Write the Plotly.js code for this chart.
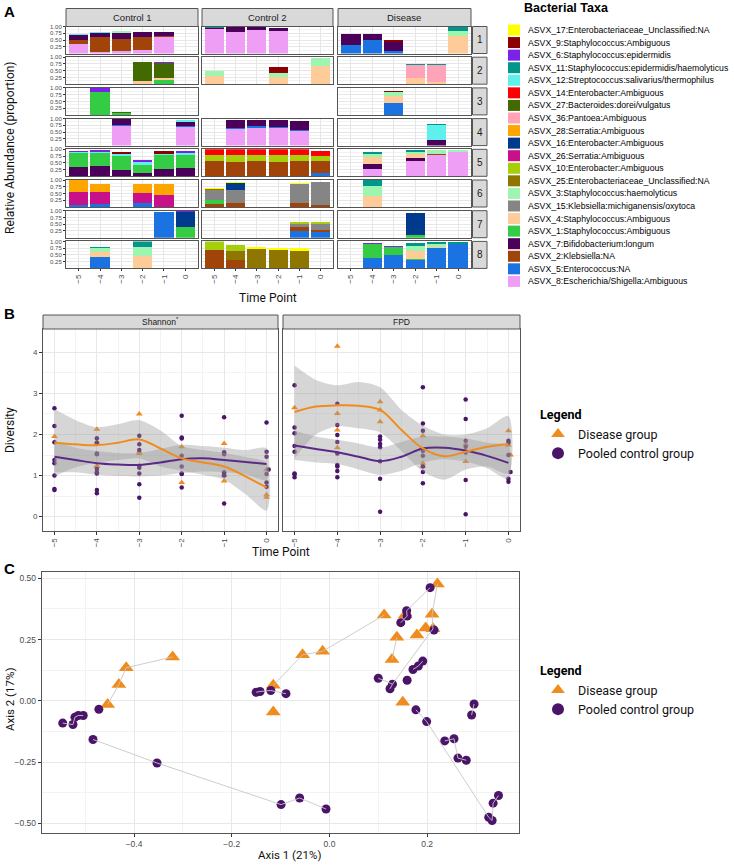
<!DOCTYPE html>
<html><head><meta charset="utf-8">
<script src="https://cdn.plot.ly/plotly-3.0.1.min.js"></script>
<style>html,body{margin:0;padding:0;background:#fff}#chart{width:734px;height:865px}</style>
</head><body><div id="chart"></div>
<script>
// ---------------- DATA ----------------
const timePoints = [-5,-4,-3,-2,-1,0];
const groups = ["Control 1","Control 2","Disease"];
const subjects = ["1","2","3","4","5","6","7","8"];
const taxonIds = ["17","9","6","11","12","14","27","36","28","16","26","10","25","3","15","4","1","7","2","5","8"];
const taxonNames = [
 "ASVX_17:Enterobacteriaceae_Unclassified:NA","ASVX_9:Staphylococcus:Ambiguous","ASVX_6:Staphylococcus:epidermidis",
 "ASVX_11:Staphylococcus:epidermidis/haemolyticus","ASVX_12:Streptococcus:salivarius/thermophilus","ASVX_14:Enterobacter:Ambiguous",
 "ASVX_27:Bacteroides:dorei/vulgatus","ASVX_36:Pantoea:Ambiguous","ASVX_28:Serratia:Ambiguous","ASVX_16:Enterobacter:Ambiguous",
 "ASVX_26:Serratia:Ambiguous","ASVX_10:Enterobacter:Ambiguous","ASVX_25:Enterobacteriaceae_Unclassified:NA",
 "ASVX_3:Staphylococcus:haemolyticus","ASVX_15:Klebsiella:michiganensis/oxytoca","ASVX_4:Staphylococcus:Ambiguous",
 "ASVX_1:Staphylococcus:Ambiguous","ASVX_7:Bifidobacterium:longum","ASVX_2:Klebsiella:NA","ASVX_5:Enterococcus:NA",
 "ASVX_8:Escherichia/Shigella:Ambiguous"];
const taxonColors = ["#FFFF00","#8B0000","#7A22E8","#00968A","#5FF0EE","#FF0000","#426A00","#FFA3B8","#FFA500","#003A8C",
 "#C8108A","#A6CE0A","#8E7600","#9EF5B0","#858585","#FFCB98","#33CC44","#4B0059","#A0440A","#1A73E0","#EE9EF5"];

// [time point, taxon id, relative abundance]
const c1_1 = [[-5,"8",0.37],[-5,"2",0.13],[-5,"7",0.19],[-5,"12",0.05],[-4,"8",0.07],[-4,"2",0.53],[-4,"7",0.17],[-4,"12",0.02],
 [-3,"8",0.09],[-3,"2",0.43],[-3,"7",0.23],[-3,"3",0.07],[-2,"8",0.12],[-2,"2",0.48],[-2,"7",0.19],[-2,"12",0.02],[-1,"8",0.6],[-1,"2",0.05],[-1,"7",0.15]];
const c2_1 = [[-5,"8",0.89],[-5,"7",0.05],[-5,"11",0.03],[-4,"8",0.79],[-4,"7",0.2],[-3,"8",0.87],[-3,"7",0.12],[-2,"8",0.84],[-2,"7",0.11]];
const d_1 = [[-5,"5",0.31],[-5,"7",0.4],[-4,"5",0.5],[-4,"7",0.22],[-3,"5",0.1],[-3,"7",0.34],[-3,"9",0.06],[0,"4",0.66],[0,"3",0.17],[0,"11",0.16]];
const c1_2 = [[-2,"4",0.11],[-2,"27",0.73],[-1,"1",0.15],[-1,"4",0.07],[-1,"27",0.57],[-1,"6",0.04]];
const c2_2 = [[-5,"4",0.3],[-5,"3",0.19],[-2,"4",0.27],[-2,"3",0.15],[-2,"9",0.23],[0,"4",0.69],[0,"3",0.27]];
const d_2 = [[-2,"4",0.24],[-2,"36",0.47],[-2,"11",0.04],[-1,"4",0.09],[-1,"36",0.62],[-1,"11",0.03]];
const c1_3 = [[-4,"1",0.83],[-4,"6",0.17],[-3,"1",0.06],[-3,"27",0.04]];
const c2_3 = [];
const d_3 = [[-3,"5",0.43],[-3,"4",0.28],[-3,"3",0.12],[-3,"9",0.06]];
const c1_4 = [[-3,"8",0.72],[-3,"5",0.03],[-3,"7",0.25],[0,"8",0.68],[0,"5",0.04],[0,"7",0.17],[0,"12",0.07]];
const c2_4 = [[-4,"8",0.63],[-4,"5",0.03],[-4,"7",0.3],[-3,"8",0.67],[-3,"5",0.05],[-3,"7",0.24],[-2,"8",0.64],[-2,"5",0.05],[-2,"7",0.27],
 [-1,"8",0.54],[-1,"5",0.04],[-1,"7",0.33]];
const d_4 = [[-1,"7",0.19],[-1,"12",0.58],[-1,"11",0.03]];
const c1_5 = [[-5,"7",0.35],[-5,"1",0.5],[-5,"12",0.05],[-5,"6",0.05],[-4,"7",0.37],[-4,"1",0.5],[-4,"12",0.03],[-4,"6",0.08],
 [-3,"7",0.25],[-3,"1",0.5],[-3,"12",0.07],[-3,"9",0.07],[-2,"7",0.13],[-2,"1",0.28],[-2,"12",0.13],[-2,"6",0.06],
 [-1,"7",0.28],[-1,"1",0.5],[-1,"12",0.04],[-1,"9",0.13],[0,"7",0.3],[0,"1",0.5],[0,"12",0.05],[0,"6",0.09]];
const c2_5 = [[-5,"2",0.57],[-5,"10",0.22],[-5,"14",0.21],[-4,"2",0.54],[-4,"10",0.26],[-4,"14",0.2],[-3,"2",0.55],[-3,"10",0.24],[-3,"14",0.21],
 [-2,"2",0.54],[-2,"10",0.24],[-2,"14",0.22],[-1,"2",0.57],[-1,"10",0.23],[-1,"14",0.2],[0,"5",0.12],[0,"2",0.45],[0,"10",0.19],[0,"14",0.18]];
const d_5 = [[-4,"8",0.26],[-4,"7",0.21],[-4,"4",0.23],[-4,"3",0.14],[-4,"11",0.05],[-2,"8",0.55],[-2,"7",0.11],[-2,"4",0.16],[-2,"3",0.09],[-2,"11",0.07],
 [-1,"8",0.78],[-1,"2",0.03],[-1,"3",0.15],[0,"8",0.9],[0,"3",0.07]];
const c1_6 = [[-5,"5",0.08],[-5,"26",0.48],[-5,"28",0.44],[-4,"5",0.12],[-4,"26",0.44],[-4,"28",0.29],[-2,"5",0.15],[-2,"26",0.38],[-2,"28",0.32],
 [-1,"26",0.46],[-1,"28",0.39]];
const c2_6 = [[-5,"2",0.12],[-5,"1",0.13],[-5,"15",0.38],[-5,"25",0.05],[-5,"17",0.03],[-4,"2",0.15],[-4,"15",0.47],[-4,"16",0.26],[-4,"17",0.03],
 [-1,"2",0.15],[-1,"15",0.71],[-1,"17",0.04],[0,"2",0.09],[0,"15",0.82],[0,"17",0.02]];
const d_6 = [[-4,"4",0.4],[-4,"3",0.38],[-4,"11",0.22]];
const c1_7 = [[-1,"5",0.96],[0,"1",0.41],[0,"16",0.55],[0,"6",0.03]];
const c2_7 = [[-1,"5",0.26],[-1,"2",0.12],[-1,"15",0.12],[-1,"10",0.1],[0,"5",0.22],[0,"2",0.07],[0,"15",0.21],[0,"10",0.09]];
const d_7 = [[-2,"1",0.09],[-2,"16",0.84]];
const c1_8 = [[-4,"5",0.43],[-4,"4",0.18],[-4,"3",0.13],[-4,"11",0.07],[-2,"4",0.46],[-2,"3",0.33],[-2,"11",0.21]];
const c2_8 = [[-5,"2",0.67],[-5,"10",0.33],[-4,"2",0.3],[-4,"25",0.35],[-4,"10",0.2],[-4,"17",0.03],[-3,"25",0.71],[-3,"17",0.08],
 [-2,"25",0.67],[-2,"17",0.08],[-1,"25",0.63],[-1,"17",0.12]];
const d_8 = [[-4,"5",0.4],[-4,"1",0.49],[-4,"6",0.06],[-3,"5",0.48],[-3,"1",0.31],[-3,"6",0.05],[-2,"5",0.3],[-2,"1",0.04],[-2,"4",0.31],[-2,"3",0.17],[-2,"11",0.12],
 [-1,"5",0.77],[-1,"4",0.04],[-1,"3",0.08],[-1,"11",0.07],[0,"5",0.91],[0,"11",0.06]];

// Panel B: diversity points
const shanCtrlX = [-5,-5,-5,-5,-5,-5,-5,-5, -4,-4,-4,-4,-4,-4,-4,-4,-4, -3,-3,-3,-3,-3,-3,-3,-3, -2,-2,-2,-2,-2,-2,-2,-2, -1,-1,-1,-1,-1,-1,-1, 0,0,0,0.05,0,0,0];
const shanCtrlY = [2.64,2.21,1.81,1.38,1.30,1.0,0.67,0.65, 1.91,1.8,1.54,1.52,1.16,1.08,1.05,0.65,0.57, 1.97,1.76,1.62,1.24,1.19,1.05,0.79,0.46,
 2.46,1.93,1.9,1.48,1.22,1.05,1.04,0.71, 2.42,1.57,1.52,1.08,1.04,1.0,0.32, 2.29,1.58,1.46,1.15,1.04,0.83,0.73];
const shanDisX = [-5, -4,-4,-4,-4, -3,-3,-3, -2,-2, -1,-1,-1, 0,0,0];
const shanDisY = [1.95, 2.13,1.82,1.24,1.22, 2.5,1.58,1.54, 1.7,0.83, 1.78,1.0,0.87, 1.14,0.53,0.47];
const fpdCtrlX = [-5,-5,-5,-5,-5,-5,-5,-5, -4,-4,-4,-4,-4,-4,-4,-4,-4, -3,-3,-3,-3,-3,-3,-3, -2,-2,-2,-2,-2,-2,-2,-2, -1,-1,-1,-1,-1,-1,-1, 0,0,0,0.05,0,0];
const fpdCtrlY = [3.2,2.17,2.03,1.72,1.58,1.05,1.03,0.96, 2.75,2.23,1.99,1.82,1.54,1.26,1.22,1.11,0.96, 1.95,1.87,1.77,1.69,1.35,0.92,0.12,
 3.15,2.27,2.09,1.6,1.48,1.22,1.09,0.81, 2.85,2.38,1.85,1.7,1.56,0.89,0.06, 1.85,1.8,1.5,1.09,0.92,0.85];
const fpdDisX = [-5, -4,-4,-4,-4, -3,-3,-3, -2,-2,-2, -1,-1, 0,0.05,0];
const fpdDisY = [2.65, 4.15,2.51,2.11,1.68, 2.8,2.6,2.31, 1.97,1.3,1.23, 1.77,1.34, 2.09,1.5,1.74];
// smoothed fits
const fitX = [-5,-4.5,-4,-3.5,-3,-2.5,-2,-1.5,-1,-0.5,0];
const shanDisFit = [1.80,1.76,1.74,1.80,1.88,1.66,1.42,1.32,1.22,0.98,0.71];
const shanDisHi  = [2.62,2.35,2.18,2.25,2.35,2.10,1.72,1.62,1.55,1.45,1.30];
const shanDisLo  = [0.98,1.20,1.32,1.38,1.42,1.22,1.12,1.02,0.90,0.55,0.15];
const shanCtrlFit = [1.46,1.38,1.30,1.27,1.26,1.32,1.40,1.42,1.38,1.33,1.28];
const shanCtrlHi  = [1.85,1.68,1.60,1.55,1.55,1.65,1.75,1.72,1.68,1.62,1.66];
const shanCtrlLo  = [1.08,1.08,1.02,0.99,0.98,1.00,1.06,1.10,1.08,1.03,0.90];
const fpdDisFit = [2.55,2.68,2.71,2.70,2.60,2.11,1.66,1.47,1.58,1.70,1.77];
const fpdDisHi  = [3.68,3.33,3.20,3.28,3.15,2.60,2.22,2.00,2.00,2.15,2.45];
const fpdDisLo  = [1.42,2.00,2.20,2.15,2.05,1.60,1.10,0.90,1.15,1.22,1.05];
const fpdCtrlFit = [1.73,1.65,1.57,1.46,1.35,1.46,1.66,1.68,1.61,1.48,1.31];
const fpdCtrlHi  = [2.10,1.95,1.87,1.78,1.68,1.82,1.95,1.95,1.90,1.80,1.72];
const fpdCtrlLo  = [1.38,1.32,1.28,1.15,1.02,1.12,1.32,1.40,1.34,1.18,0.92];

// Panel C: ordination
const pcoaDisX = [-0.321,-0.416,-0.431,-0.454,-0.055,-0.014,-0.115,-0.115,0.221,0.112,0.155,0.210,0.138,0.179,0.197,0.212,0.128,0.150];
const pcoaDisY = [0.179,0.135,0.067,-0.015,0.188,0.202,0.063,-0.046,0.477,0.350,0.350,0.353,0.259,0.269,0.297,0.294,0.169,-0.006];
const pcoaCtrlX = [-0.546,-0.525,-0.521,-0.514,-0.504,-0.472,-0.484,-0.353,-0.099,-0.061,-0.007,-0.150,-0.142,-0.120,-0.089,0.100,
 0.206,0.158,0.159,0.146,0.214,0.191,0.182,0.171,0.129,0.124,0.159,0.296,0.291,0.177,0.199,0.236,0.255,0.263,0.280,0.346,0.335,0.326,0.333];
const pcoaCtrlY = [-0.091,-0.097,-0.067,-0.060,-0.060,-0.035,-0.158,-0.254,-0.424,-0.397,-0.442,0.035,0.038,0.042,0.029,0.092,
 0.462,0.368,0.346,0.319,0.289,0.162,0.142,0.128,0.068,0.049,0.084,-0.013,-0.058,-0.037,-0.085,-0.164,-0.155,-0.234,-0.243,-0.387,-0.418,-0.476,-0.489];
const trajectories = [
 [[-0.321,0.179],[-0.416,0.135],[-0.431,0.067],[-0.454,-0.015]],
 [[-0.546,-0.091],[-0.525,-0.097],[-0.521,-0.067],[-0.514,-0.060],[-0.504,-0.060]],
 [[-0.484,-0.158],[-0.353,-0.254],[-0.099,-0.424],[-0.061,-0.397],[-0.007,-0.442]],
 [[-0.150,0.035],[-0.142,0.038],[-0.120,0.042],[-0.089,0.029]],
 [[-0.115,0.063],[-0.055,0.188],[-0.014,0.202],[0.112,0.350]],
 [[0.206,0.462],[0.158,0.368],[0.159,0.346],[0.146,0.319]],
 [[0.221,0.477],[0.210,0.353],[0.212,0.294],[0.129,0.068],[0.100,0.092]],
 [[0.138,0.259],[0.128,0.169]],
 [[0.191,0.162],[0.182,0.142],[0.171,0.128]],
 [[0.296,-0.013],[0.291,-0.058]],
 [[0.177,-0.037],[0.199,-0.085],[0.326,-0.476],[0.333,-0.489],[0.335,-0.418],[0.346,-0.387]],
 [[0.236,-0.164],[0.255,-0.155],[0.263,-0.234],[0.280,-0.243]],
 [[0.124,0.049],[0.129,0.068]]
];

// ---------------- BUILD ----------------
const W = 734, H = 865;
const panelData = [c1_1,c2_1,d_1,c1_2,c2_2,d_2,c1_3,c2_3,d_3,c1_4,c2_4,d_4,c1_5,c2_5,d_5,c1_6,c2_6,d_6,c1_7,c2_7,d_7,c1_8,c2_8,d_8];
const colorOf = {}; taxonIds.forEach((id,i)=>colorOf[id]=taxonColors[i]);
const stackOrder = taxonIds.slice().reverse();
const ax = n => n===1 ? '' : String(n);
const px = x => x/W, py = y => 1 - y/H;
const traces = [], shapes = [], annotations = [];
const layout = {width:W, height:H, margin:{l:0,r:0,t:0,b:0}, paper_bgcolor:'#fff', plot_bgcolor:'#fff',
  barmode:'stack', showlegend:true, hovermode:false,
  font:{family:'Liberation Sans, Arial, sans-serif', size:9, color:'#333'}};

function rect(x0,y0,x1,y1,fill,lc){shapes.push({type:'rect',xref:'paper',yref:'paper',x0:px(x0),x1:px(x1),y0:py(y1),y1:py(y0),fillcolor:fill,line:{color:lc||fill,width:lc?1:0},layer:'above'});}
function ann(text,x,y,o){annotations.push(Object.assign({text:text,xref:'paper',yref:'paper',x:px(x),y:py(y),showarrow:false,xanchor:'center',yanchor:'middle',font:{family:'Liberation Sans, Arial, sans-serif',size:9.5,color:'#1a1a1a'}},o||{}));}

const colX = [[66,198],[202,333],[338,471]];
const rowTop = r => 26.5 + r*30.7, rowH = 27;
const lineCol = '#555', gridCol = '#e6e6e6';
for (let r=0;r<8;r++) for (let c=0;c<3;c++){
  const n = r*3+c+1, rows = panelData[r*3+c];
  stackOrder.forEach(id=>{
    const sel = rows.filter(e=>e[1]===id);
    if(!sel.length) return;
    traces.push({type:'bar', x:sel.map(e=>e[0]), y:sel.map(e=>e[2]), width:0.9, marker:{color:colorOf[id],line:{width:0}},
      xaxis:'x'+ax(n), yaxis:'y'+ax(n), showlegend:false, hoverinfo:'skip', name:id});
  });
  const top = rowTop(r), bot = top+rowH;
  layout['xaxis'+ax(n)] = {domain:[px(colX[c][0]),px(colX[c][1])], anchor:'y'+ax(n), range:[-5.6,0.6], tickvals:timePoints,
    showticklabels:r===7, tickangle:-90, tickfont:{size:8,color:'#4d4d4d'}, ticks:r===7?'outside':'', ticklen:2, tickcolor:'#333',
    showgrid:true, gridcolor:gridCol, zeroline:false, showline:true, mirror:true, linecolor:lineCol, linewidth:1, fixedrange:true};
  layout['yaxis'+ax(n)] = {domain:[py(bot),py(top)], anchor:'x'+ax(n), range:[0,1], tickvals:[0.25,0.5,0.75,1],
    ticktext:['0.25','0.50','0.75','1.00'], showticklabels:c===0, ticks:c===0?'outside':'', ticklen:2, tickcolor:'#333',
    tickfont:{size:6,color:'#4d4d4d'}, showgrid:true, gridcolor:gridCol,
    minor:{tickvals:[0.125,0.375,0.625,0.875], showgrid:true, gridcolor:'#f2f2f2'},
    zeroline:false, showline:true, mirror:true, linecolor:lineCol, linewidth:1, fixedrange:true};
  if (r===0){ rect(colX[c][0],8.5,colX[c][1],26.5,'#d9d9d9',lineCol); ann(groups[c],(colX[c][0]+colX[c][1])/2,17.5); }
  if (c===2){ rect(472.5,top,487,bot,'#d9d9d9',lineCol); ann(subjects[r],479.8,top+rowH/2,{font:{family:'Liberation Sans, Arial, sans-serif',size:10,color:'#1a1a1a'}}); }
}

// taxa legend (drawn with shapes + text)
ann('<b>Bacterial Taxa</b>',522,8,{xanchor:'left',font:{family:'Liberation Sans, Arial, sans-serif',size:12.5,color:'#000'}});
taxonNames.forEach((name,i)=>{
  const y = 30 + i*12.57;
  rect(508,y-5.5,520,y+5.5,taxonColors[i]);
  ann(name,526,y,{xanchor:'left',font:{family:'Liberation Sans, Arial, sans-serif',size:8.7,color:'#000'}});
});

// ----- Panel B -----
const PUR='#4A1468', PURL='#5B2A86', ORA='#F08C1E';
const bX = [[43,278],[283,520]], bTop=329, bBot=531;
const bSets = [
  {ctrlX:shanCtrlX,ctrlY:shanCtrlY,disX:shanDisX,disY:shanDisY,dFit:shanDisFit,dHi:shanDisHi,dLo:shanDisLo,cFit:shanCtrlFit,cHi:shanCtrlHi,cLo:shanCtrlLo,title:'Shannon<sup>*</sup>'},
  {ctrlX:fpdCtrlX,ctrlY:fpdCtrlY,disX:fpdDisX,disY:fpdDisY,dFit:fpdDisFit,dHi:fpdDisHi,dLo:fpdDisLo,cFit:fpdCtrlFit,cHi:fpdCtrlHi,cLo:fpdCtrlLo,title:'FPD'}];
bSets.forEach((s,k)=>{
  const n = 25+k, xa='x'+ax(n), ya='y'+ax(n);
  traces.push({type:'scatter',mode:'markers',x:s.disX,y:s.disY,xaxis:xa,yaxis:ya,marker:{symbol:'triangle-up',size:6,color:ORA},
    name:'Disease group',legend:'legend2',showlegend:k===0});
  traces.push({type:'scatter',mode:'markers',x:s.ctrlX,y:s.ctrlY,xaxis:xa,yaxis:ya,marker:{symbol:'circle',size:4.5,color:PUR},
    name:'Pooled control group',legend:'legend2',showlegend:k===0});
  [[s.dHi,s.dLo],[s.cHi,s.cLo]].forEach(b=>{
    traces.push({type:'scatter',mode:'lines',x:fitX.concat(fitX.slice().reverse()),y:b[0].concat(b[1].slice().reverse()),fill:'toself',
      fillcolor:'rgba(153,153,153,0.4)',line:{width:0,shape:'spline',smoothing:0.8},xaxis:xa,yaxis:ya,showlegend:false,hoverinfo:'skip'});
  });
  traces.push({type:'scatter',mode:'lines',x:fitX,y:s.cFit,line:{color:PURL,width:2,shape:'spline'},xaxis:xa,yaxis:ya,showlegend:false});
  traces.push({type:'scatter',mode:'lines',x:fitX,y:s.dFit,line:{color:ORA,width:2,shape:'spline'},xaxis:xa,yaxis:ya,showlegend:false});
  layout['xaxis'+ax(n)] = {domain:[px(bX[k][0]),px(bX[k][1])],anchor:ya,range:[-5.27,0.27],tickvals:timePoints,tickangle:-90,
    tickfont:{size:8,color:'#4d4d4d'},ticks:'outside',ticklen:3,tickcolor:'#333',showgrid:true,gridcolor:'#e8e8e8',
    minor:{tickvals:[-4.5,-3.5,-2.5,-1.5,-0.5],showgrid:true,gridcolor:'#f3f3f3'},zeroline:false,showline:true,mirror:true,linecolor:lineCol,linewidth:1};
  layout['yaxis'+ax(n)] = {domain:[py(bBot),py(bTop)],anchor:xa,range:[-0.35,4.57],tickvals:[0,1,2,3,4],showticklabels:k===0,
    tickfont:{size:8,color:'#4d4d4d'},ticks:k===0?'outside':'',ticklen:3,tickcolor:'#333',showgrid:true,gridcolor:'#e8e8e8',
    minor:{tickvals:[0.5,1.5,2.5,3.5],showgrid:true,gridcolor:'#f3f3f3'},zeroline:false,showline:true,mirror:true,linecolor:lineCol,linewidth:1};
  rect(bX[k][0],315,bX[k][1],329,'#d9d9d9',lineCol);
  ann(s.title,(bX[k][0]+bX[k][1])/2,322,{font:{family:'Liberation Sans, Arial, sans-serif',size:8.5,color:'#1a1a1a'}});
});

// ----- Panel C -----
traces.push({type:'scatter',mode:'markers',x:pcoaDisX,y:pcoaDisY,xaxis:'x27',yaxis:'y27',marker:{symbol:'triangle-up',size:13,color:ORA},
  name:'Disease group',legend:'legend3'});
traces.push({type:'scatter',mode:'markers',x:pcoaCtrlX,y:pcoaCtrlY,xaxis:'x27',yaxis:'y27',marker:{symbol:'circle',size:9,color:PUR},
  name:'Pooled control group',legend:'legend3'});
const trajX=[], trajY=[];
trajectories.forEach(t=>{t.forEach(p=>{trajX.push(p[0]);trajY.push(p[1]);}); trajX.push(null); trajY.push(null);});
traces.push({type:'scatter',mode:'lines',x:trajX,y:trajY,xaxis:'x27',yaxis:'y27',line:{color:'rgba(200,200,200,0.9)',width:1},showlegend:false,connectgaps:false});
layout.xaxis27 = {domain:[px(41.7),px(519)],anchor:'y27',range:[-0.589,0.388],tickvals:[-0.4,-0.2,0,0.2],tickformat:'.1f',
  tickfont:{size:8.5,color:'#4d4d4d'},ticks:'outside',ticklen:3,tickcolor:'#333',showgrid:true,gridcolor:'#e8e8e8',
  minor:{tickvals:[-0.5,-0.3,-0.1,0.1,0.3],showgrid:true,gridcolor:'#f3f3f3'},zeroline:false,showline:true,mirror:true,linecolor:lineCol,linewidth:1};
layout.yaxis27 = {domain:[py(833),py(572)],anchor:'x27',range:[-0.54,0.526],tickvals:[-0.5,-0.25,0,0.25,0.5],tickformat:'.2f',
  tickfont:{size:8.5,color:'#4d4d4d'},ticks:'outside',ticklen:3,tickcolor:'#333',showgrid:true,gridcolor:'#e8e8e8',
  minor:{tickvals:[-0.375,-0.125,0.125,0.375],showgrid:true,gridcolor:'#f3f3f3'},zeroline:false,showline:true,mirror:true,linecolor:lineCol,linewidth:1};

// legends
const legStyle = {xanchor:'left',yanchor:'top',bgcolor:'rgba(0,0,0,0)',itemsizing:'constant',tracegroupgap:0,
  font:{family:'Roboto, sans-serif',size:12.5,color:'#111'},title:{text:'<b>Legend</b>',font:{family:'Roboto, sans-serif',size:12.5,color:'#000'}}};
layout.legend2 = Object.assign({x:px(538),y:py(403)},legStyle);
layout.legend3 = Object.assign({x:px(538),y:py(659)},legStyle);
layout.legend = {visible:false};

// titles
const tfont = {family:'Roboto, sans-serif',size:12,color:'#111'};
ann('Relative Abundance (proportion)',10,148,{textangle:-90,font:tfont});
ann('Time Point',268,298,{font:tfont});
ann('Diversity',10,430,{textangle:-90,font:tfont});
ann('Time Point',281,552,{font:tfont});
ann('Axis 2 (17%)',10,700,{textangle:-90,font:{family:'Roboto, sans-serif',size:11.5,color:'#111'}});
ann('Axis 1 (21%)',289,855,{font:{family:'Roboto, sans-serif',size:11.5,color:'#111'}});
const lfont = {family:'Liberation Sans, Arial, sans-serif',size:15,color:'#000'};
ann('<b>A</b>',9,12,{font:lfont}); ann('<b>B</b>',9,313,{font:lfont}); ann('<b>C</b>',9,568,{font:lfont});

layout.shapes = shapes; layout.annotations = annotations;
Plotly.newPlot('chart', traces, layout, {displayModeBar:false, staticPlot:true});
</script></body></html>
